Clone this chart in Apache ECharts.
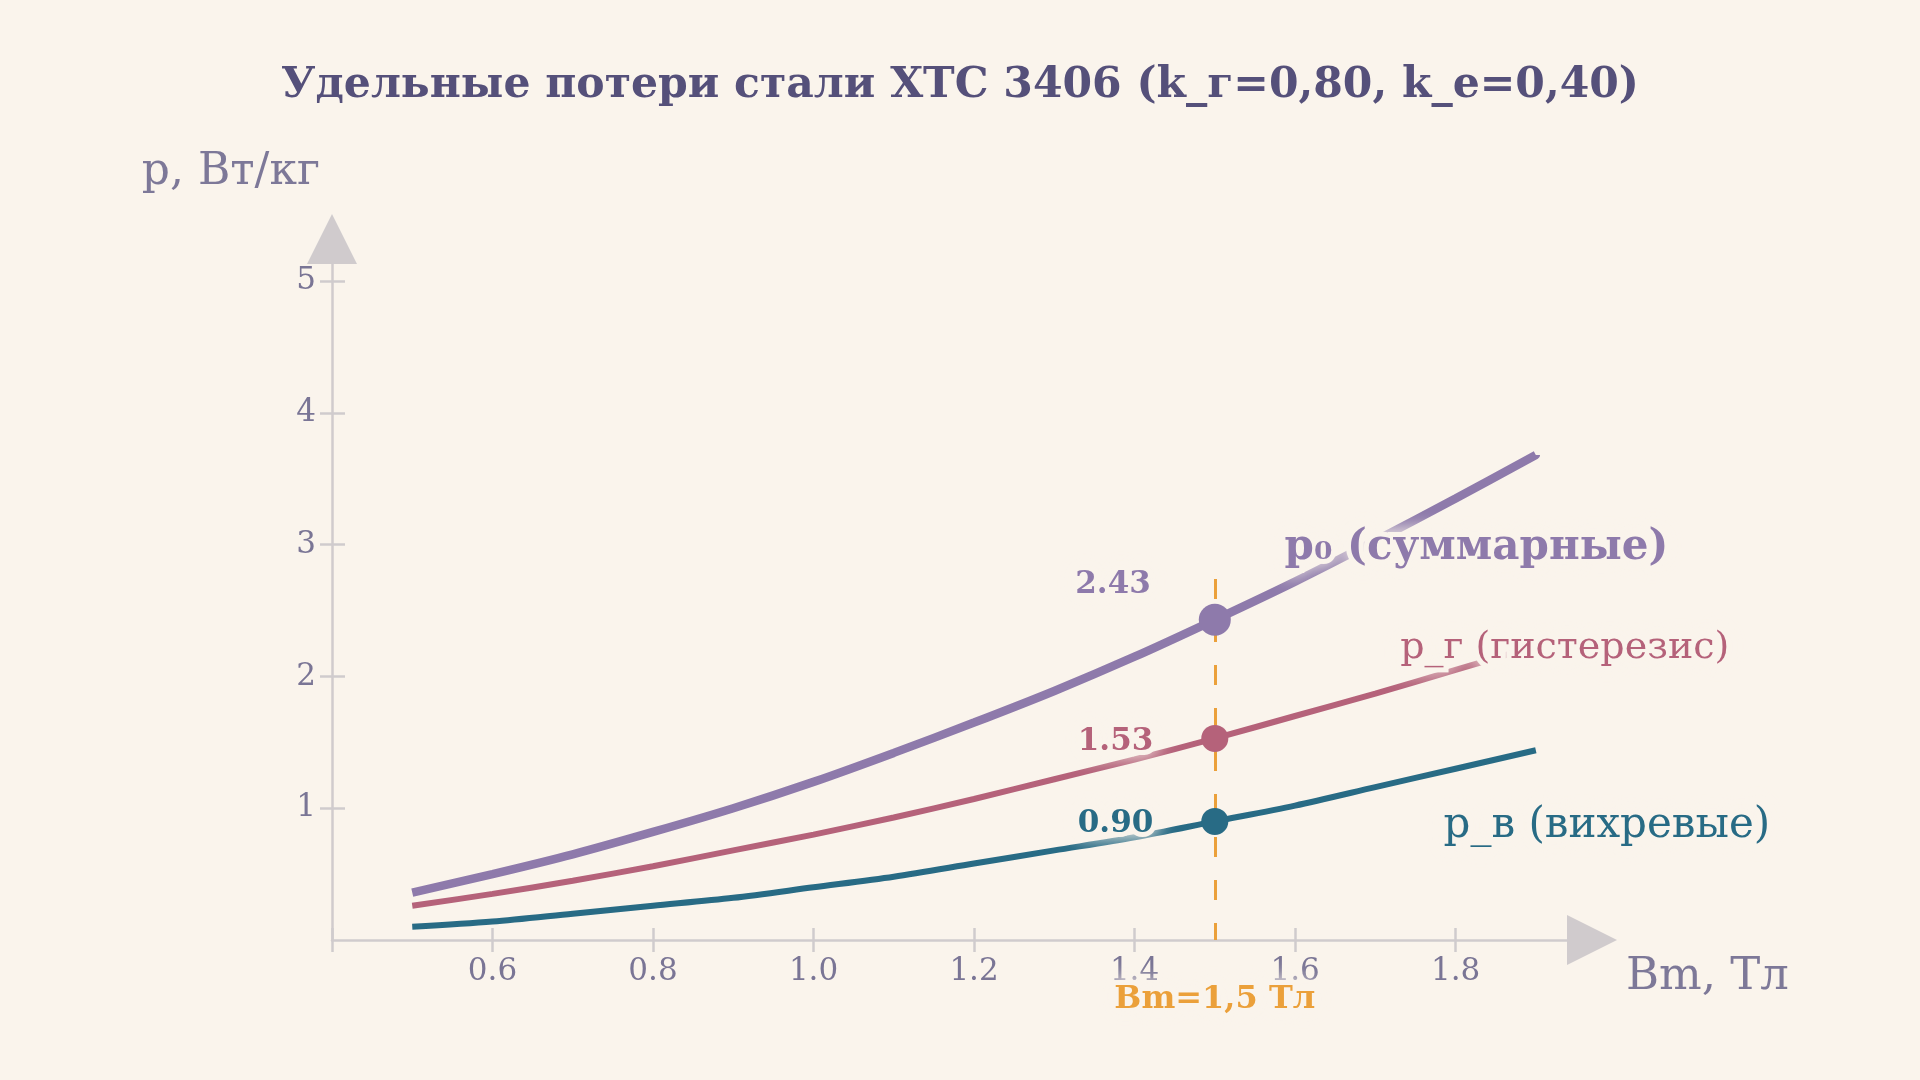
<!DOCTYPE html>
<html>
<head>
<meta charset="utf-8">
<script src="https://cdn.jsdelivr.net/npm/echarts@6/dist/echarts.min.js"></script>
<style>
  html, body { margin: 0; padding: 0; background: #faf4ec; }
  #chart { width: 1920px; height: 1080px; }
</style>
</head>
<body>
<div id="chart"></div>
<script>
// Bm, Тл
const bm = [0.5, 0.6, 0.7, 0.8, 0.9, 1.0, 1.1, 1.2, 1.3, 1.4, 1.5, 1.6, 1.7, 1.8, 1.9];
// удельные потери, Вт/кг
const pEddy  = [0.10, 0.14, 0.20, 0.26, 0.32, 0.40, 0.48, 0.58, 0.68, 0.78, 0.90, 1.02, 1.16, 1.30, 1.44];
const pHyst  = [0.26, 0.35, 0.45, 0.56, 0.68, 0.80, 0.93, 1.07, 1.22, 1.37, 1.53, 1.70, 1.87, 2.05, 2.23];
const pTotal = [0.36, 0.50, 0.65, 0.82, 1.00, 1.20, 1.42, 1.65, 1.89, 2.15, 2.43, 2.72, 3.03, 3.35, 3.68];

const seriesNames = ['p₀ (суммарные)', 'p_г (гистерезис)', 'p_в (вихревые)'];
const xTicks = [0.6, 0.8, 1.0, 1.2, 1.4, 1.6, 1.8];
const xTickMarks = [0.4, 0.6, 0.8, 1.0, 1.2, 1.4, 1.6, 1.8];
const yTicks = [1, 2, 3, 4, 5];
const bmMark = 1.5;
const markValues = [2.43, 1.53, 0.90];   // [p0, p_г, p_в] при Bm = 1,5

const BG = '#faf4ec';
const FONT = 'DejaVu Serif';
const AXIS = '#d0cbcd';
const colors = ['#8e7aab', '#b5627a', '#286b85'];
const ORANGE = '#eba03a';

const halo = { textBorderColor: BG, textBorderWidth: 10, textShadowColor: BG, textShadowBlur: 20 };

function pairs(ys) { return bm.map(function (b, i) { return [b, ys[i]]; }); }

const chart = echarts.init(document.getElementById('chart'));

const baseX = { type: 'value', min: 0.4, max: 1.97, splitLine: { show: false } };
const baseY = { type: 'value', min: 0, max: 5.32, splitLine: { show: false } };

function lineSeries(idx, ys, width, dotSize, nameCoord, nameStyle, valueOffset) {
  return {
    name: seriesNames[idx],
    type: 'line',
    data: pairs(ys),
    smooth: 0.3,
    showSymbol: false,
    silent: true,
    lineStyle: { color: colors[idx], width: width, cap: 'butt' },
    markPoint: {
      silent: true,
      animation: false,
      data: [
        {
          coord: [bmMark, markValues[idx]],
          symbol: 'circle',
          symbolSize: dotSize,
          itemStyle: { color: colors[idx] },
          label: Object.assign({
            show: true,
            position: 'left',
            distance: 48,
            offset: valueOffset,
            formatter: markValues[idx].toFixed(2),
            fontFamily: FONT, fontWeight: 'bold', fontSize: 31,
            color: colors[idx]
          }, halo)
        },
        {
          coord: nameCoord,
          symbol: 'circle',
          symbolSize: 0,
          label: Object.assign({
            show: true,
            position: 'inside',
            align: 'left',
            verticalAlign: 'middle',
            formatter: seriesNames[idx],
            fontFamily: FONT,
            color: colors[idx]
          }, nameStyle, halo)
        }
      ]
    }
  };
}

const option = {
  backgroundColor: BG,
  animation: false,
  title: {
    text: 'Удельные потери стали ХТС 3406 (k_г=0,80, k_e=0,40)',
    left: 'center',
    top: 59,
    textStyle: { fontFamily: FONT, fontWeight: 'bold', fontSize: 42.5, color: '#55507a' }
  },
  grid: { left: 332, right: 328, top: 239, bottom: 140, containLabel: false, outerBoundsMode: 'none' },
  xAxis: [
    Object.assign({}, baseX, {
      name: 'Bm, Тл',
      nameLocation: 'end',
      nameGap: 34,
      nameTextStyle: { fontFamily: FONT, fontSize: 45, color: '#7d7898', align: 'left', verticalAlign: 'top', padding: [15, 0, 0, 0] },
      axisLine: { show: true, lineStyle: { color: AXIS, width: 2.5 }, symbol: ['none', 'triangle'], symbolSize: [50, 50] },
      axisTick: { show: true, length: 12, lineStyle: { color: AXIS, width: 2.5 }, customValues: xTickMarks },
      axisLabel: {
        show: true, margin: 16, customValues: xTicks,
        fontFamily: FONT, fontSize: 31, color: '#7a7595',
        formatter: function (v) { return v.toFixed(1); }
      }
    }),
    Object.assign({}, baseX, {
      position: 'bottom',
      axisLine: { show: false },
      axisTick: { show: true, inside: true, length: 12, lineStyle: { color: AXIS, width: 2.5 }, customValues: xTickMarks },
      axisLabel: { show: false }
    })
  ],
  yAxis: [
    Object.assign({}, baseY, {
      name: 'p, Вт/кг',
      nameLocation: 'end',
      nameGap: 66,
      nameTextStyle: { fontFamily: FONT, fontSize: 44, color: '#7d7898', align: 'right', verticalAlign: 'middle', padding: [0, 12, 0, 0] },
      axisLine: { show: true, lineStyle: { color: AXIS, width: 2.5 }, symbol: ['none', 'triangle'], symbolSize: [50, 50] },
      axisTick: { show: true, length: 12, lineStyle: { color: AXIS, width: 2.5 }, customValues: yTicks },
      axisLabel: {
        show: true, margin: 16, customValues: yTicks,
        fontFamily: FONT, fontSize: 31, color: '#7a7595'
      }
    }),
    Object.assign({}, baseY, {
      position: 'left',
      axisLine: { show: false },
      axisTick: { show: true, inside: true, length: 13, lineStyle: { color: AXIS, width: 2.5 }, customValues: yTicks },
      axisLabel: { show: false }
    })
  ],
  series: [
    {
      type: 'line',
      data: [],
      silent: true,
      z: 1,
      markLine: {
        silent: true,
        animation: false,
        symbol: 'none',
        label: { show: false },
        lineStyle: { color: ORANGE, width: 3, type: [20, 23] },
        data: [[{ coord: [bmMark, 2.74] }, { coord: [bmMark, 0] }]]
      },
      markPoint: {
        silent: true,
        animation: false,
        data: [{
          coord: [bmMark, 0],
          symbol: 'circle',
          symbolSize: 0,
          label: Object.assign({
            show: true, position: 'inside', offset: [0, 60],
            formatter: 'Bm=1,5 Тл',
            fontFamily: FONT, fontWeight: 'bold', fontSize: 32, color: ORANGE
          }, halo)
        }]
      }
    },
    lineSeries(2, pEddy, 6, 27, [1.785, 0.865], { fontSize: 42 }, [0, 3]),
    lineSeries(1, pHyst, 6, 27, [1.731, 2.215], { fontSize: 38 }, [0, 4]),
    lineSeries(0, pTotal, 8.5, 32, [1.587, 2.975], { fontSize: 42, fontWeight: 'bold' }, [0, -35])
  ]
};

chart.setOption(option);
</script>
</body>
</html>
